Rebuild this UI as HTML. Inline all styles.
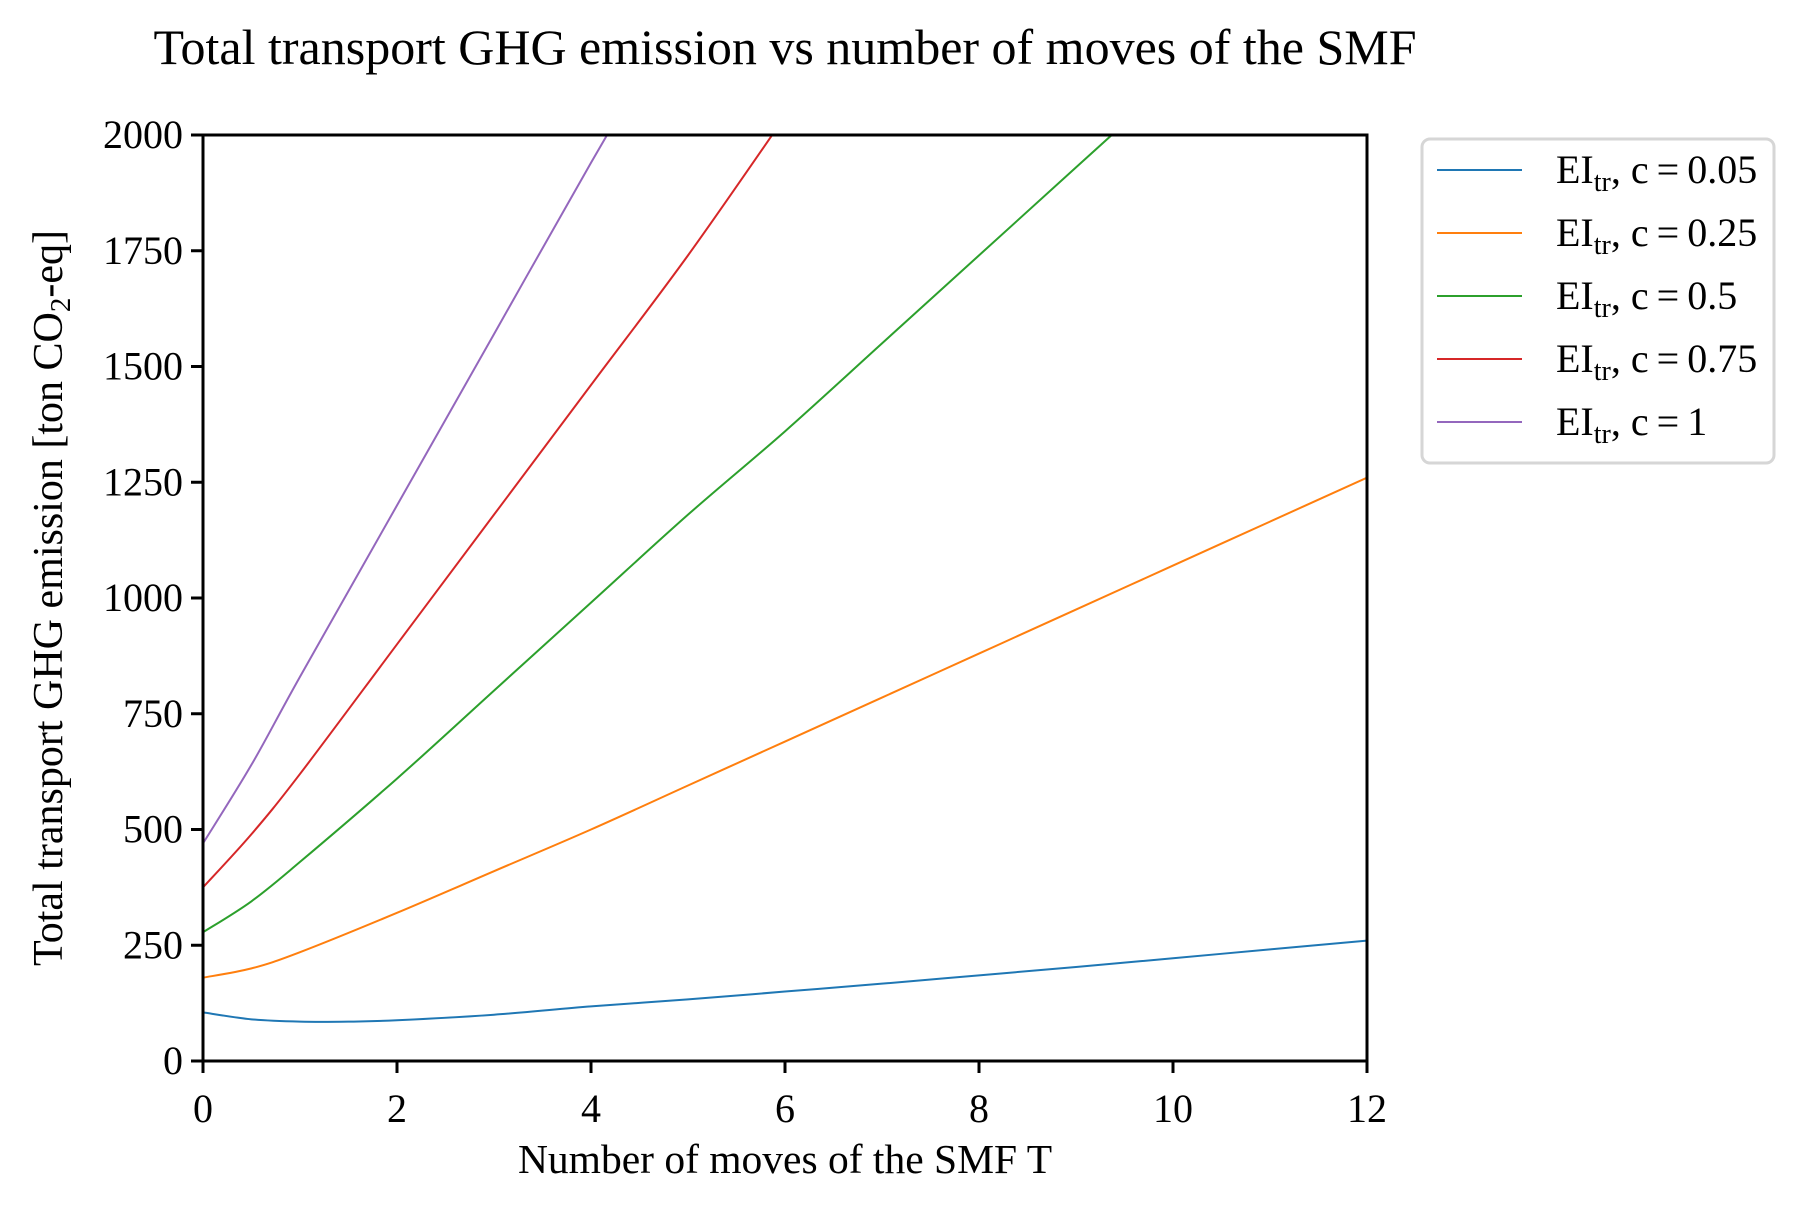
<!DOCTYPE html>
<html><head><meta charset="utf-8"><style>
html,body{margin:0;padding:0;background:#fff;}
svg{display:block;font-family:"Liberation Serif",serif;}
</style></head><body>
<svg id="chart" width="1804" height="1212" viewBox="0 0 1804 1212">
<text x="785" y="64" font-size="50" text-anchor="middle">Total transport GHG emission vs number of moves of the SMF</text>
<defs><clipPath id="plotclip"><rect x="203" y="135" width="1164" height="926"/></clipPath></defs>
<g id="series" clip-path="url(#plotclip)"></g>
<rect x="203" y="135" width="1164" height="926" fill="none" stroke="#000" stroke-width="3"/>
<g id="xticks"></g>
<g id="yticks"></g>
<text x="785" y="1173" font-size="41.5" text-anchor="middle">Number of moves of the SMF T</text>
<text transform="translate(62,598) rotate(-90)" font-size="42" text-anchor="middle">Total transport GHG emission [ton CO<tspan font-size="29" dy="8">2</tspan><tspan dy="-8">-eq]</tspan></text>
<rect x="1422" y="139" width="352" height="324" rx="8" fill="#fff" stroke="#d6d6d6" stroke-width="3"/>
<g id="legend"></g>
</svg>
<script>
const xTicks=[0,2,4,6,8,10,12];
const yTicks=[0,250,500,750,1000,1250,1500,1750,2000];
const labels=["0.05","0.25","0.5","0.75","1"];
const colors=["#1f77b4","#ff7f0e","#2ca02c","#d62728","#9467bd"];
const tBlue=[0,0.5,1,1.5,2,3,4,5,6,7,8,9,10,11,12];
const vBlue=[105,90,85,85,88,100,118,133,150,167,185,203,222,241,260];
const tOrange=[0,0.5,1,2,3,4,5,6,7,8,9,10,11,12];
const vOrange=[180,200,235,320,410,500,595,690,785,880,975,1070,1165,1260];
const tGreen=[0,0.5,1,2,3,4,5,6,7,8,9,10];
const vGreen=[278,345,430,610,800,990,1180,1360,1550,1740,1930,2120];
const tRed=[0,0.5,1,2,3,4,5,6];
const vRed=[375,490,620,900,1180,1460,1740,2040];
const tPurple=[0,0.5,1,2,3,4,5];
const vPurple=[470,640,830,1200,1570,1940,2300];
const series=[[tBlue,vBlue],[tOrange,vOrange],[tGreen,vGreen],[tRed,vRed],[tPurple,vPurple]];
const X0=203,X1=1367,Y0=1061,Y1=135;
const sx=v=>X0+(v-0)/(12-0)*(X1-X0);
const sy=v=>Y0-(v-0)/(2000-0)*(Y0-Y1);
const NS="http://www.w3.org/2000/svg";
function mk(tag,attrs,parent){const e=document.createElementNS(NS,tag);for(const k in attrs)e.setAttribute(k,attrs[k]);parent.appendChild(e);return e;}
function smoothPath(P){
 let d='M'+P[0][0]+','+P[0][1];
 for(let i=0;i<P.length-1;i++){
  const p0=P[Math.max(i-1,0)],p1=P[i],p2=P[i+1],p3=P[Math.min(i+2,P.length-1)];
  const c1=[p1[0]+(p2[0]-p0[0])/6,p1[1]+(p2[1]-p0[1])/6];
  const c2=[p2[0]-(p3[0]-p1[0])/6,p2[1]-(p3[1]-p1[1])/6];
  d+=' C'+c1[0]+','+c1[1]+' '+c2[0]+','+c2[1]+' '+p2[0]+','+p2[1];
 }
 return d;
}
const xg=document.getElementById('xticks');
xTicks.forEach(t=>{
 const l=mk('line',{x1:sx(t),x2:sx(t),y1:Y0,y2:Y0+12,stroke:'#000','stroke-width':3},xg);
 
 
 const tx=mk('text',{x:sx(t),y:1122,'font-size':40,'text-anchor':'middle'},xg);
 tx.textContent=t;
 
 
});
const yg=document.getElementById('yticks');
yTicks.forEach(t=>{
 const l=mk('line',{x1:X0-12,x2:X0,y1:sy(t),y2:sy(t),stroke:'#000','stroke-width':3},yg);
 
 
 const tx=mk('text',{x:X0-20,y:sy(t)+13,'font-size':40,'text-anchor':'end'},yg);
 tx.textContent=t;
 
 
});
const sg=document.getElementById('series');
series.forEach((s,i)=>{
 const P=s[0].map((t,j)=>[sx(t),sy(s[1][j])]);
 const p=mk('path',{d:smoothPath(P),fill:'none',stroke:colors[i],'stroke-width':2,'stroke-linejoin':'round'},sg);
 
 
});
const lg=document.getElementById('legend');
labels.forEach((lab,i)=>{
 const y=170+i*63;
 const l=mk('line',{x1:1437,x2:1522,y1:y,y2:y,stroke:colors[i],'stroke-width':2},lg);
 
 
 const tx=mk('text',{x:1556,y:y+13,'font-size':40},lg);
 tx.innerHTML='EI<tspan font-size="28" dy="8">tr</tspan><tspan dy="-8">, c\u2009=\u2009'+lab+'</tspan>';
 
 
});
</script>
</body></html>
